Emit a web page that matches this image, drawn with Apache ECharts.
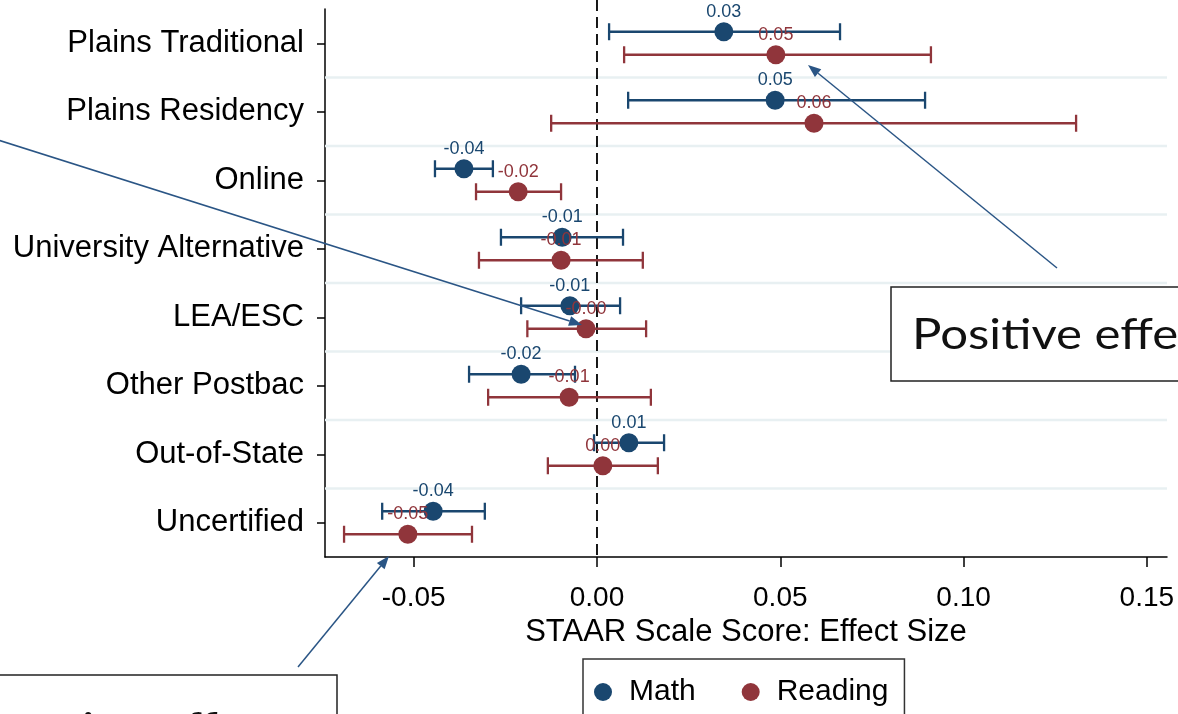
<!DOCTYPE html>
<html>
<head>
<meta charset="utf-8">
<script src="https://cdn.jsdelivr.net/npm/echarts@6/dist/echarts.min.js"></script>
<style>
  html, body { margin: 0; padding: 0; background: #fff; }
  #chart { width: 1178px; height: 714px; }
</style>
</head>
<body>
<div id="chart"></div>
<script>
// ---- data ----
const categories = ['Plains Traditional', 'Plains Residency', 'Online', 'University Alternative', 'LEA/ESC', 'Other Postbac', 'Out-of-State', 'Uncertified'];
const mathEst = [0.0346, 0.0486, -0.0363, -0.0095, -0.0074, -0.0207, 0.0087, -0.0447];
const mathLo  = [0.0033, 0.0085, -0.0442, -0.0262, -0.0207, -0.0349, -0.0008, -0.0586];
const mathHi  = [0.0663, 0.0895, -0.0284, 0.0071, 0.0063, -0.0060, 0.0183, -0.0306];
const readEst = [0.0488, 0.0592, -0.0215, -0.0098, -0.0030, -0.0076, 0.0016, -0.0516];
const readLo  = [0.0074, -0.0125, -0.0330, -0.0322, -0.0190, -0.0297, -0.0134, -0.0690];
const readHi  = [0.0911, 0.1307, -0.0098, 0.0125, 0.0134, 0.0147, 0.0166, -0.0341];
const xTicks = [-0.05, 0, 0.05, 0.10, 0.15];
const xTitle = 'STAAR Scale Score: Effect Size';
const seriesNames = ['Math', 'Reading'];
const posNote = 'Positive effect';
const negNote = 'Negative effect';

const NAVY = '#1a476f';
const MAROON = '#90353b';
const GRIDC = '#e8f0f2';
const ARROW = '#2a5585';
const FONT = '"Liberation Sans", Arial, sans-serif';
const NOTE_FONT = '42px Lato, "DejaVu Sans", sans-serif';

function toRows(est, lo, hi) {
  return categories.map((c, i) => [i, est[i], lo[i], hi[i]]);
}

function renderCI(offsetFrac, color) {
  return function (params, api) {
    const cat = api.value(0), v = api.value(1), lo = api.value(2), hi = api.value(3);
    const band = api.size([0, 1])[1];
    const c = api.coord([v, cat]);
    const y = c[1] + offsetFrac * band;
    const xLo = api.coord([lo, cat])[0];
    const xHi = api.coord([hi, cat])[0];
    const cap = 8.5;
    const lw = 2.3;
    return {
      type: 'group',
      children: [
        { type: 'line', shape: { x1: xLo, y1: y, x2: xHi, y2: y }, style: { stroke: color, lineWidth: lw } },
        { type: 'line', shape: { x1: xLo, y1: y - cap, x2: xLo, y2: y + cap }, style: { stroke: color, lineWidth: lw } },
        { type: 'line', shape: { x1: xHi, y1: y - cap, x2: xHi, y2: y + cap }, style: { stroke: color, lineWidth: lw } },
        { type: 'circle', shape: { cx: c[0], cy: y, r: 9.5 }, style: { fill: color } },
        { type: 'text', z2: 10, style: { text: v.toFixed(2), x: c[0], y: y - 20, align: 'center', verticalAlign: 'middle', fill: color, font: '18px ' + FONT } }
      ]
    };
  };
}

function renderGrid(params, api) {
  const cs = params.coordSys;
  const i = api.value(0);
  const children = [];
  if (i < categories.length - 1) {
    const y = (api.coord([0, i])[1] + api.coord([0, i + 1])[1]) / 2;
    children.push({ type: 'line', shape: { x1: cs.x, y1: y, x2: cs.x + cs.width, y2: y }, style: { stroke: GRIDC, lineWidth: 2.5 } });
  }
  if (i === 0) {
    const x0 = api.coord([0, 0])[0];
    children.push({ type: 'line', z2: 5, shape: { x1: x0, y1: 0, x2: x0, y2: cs.y + cs.height }, style: { stroke: '#000', lineWidth: 1.8, lineDash: [11, 6] } });
  }
  return { type: 'group', children: children };
}

function arrow(x1, y1, x2, y2) {
  const ang = Math.atan2(y2 - y1, x2 - x1);
  const L = 13, W = 5;
  const bx = x2 - L * Math.cos(ang), by = y2 - L * Math.sin(ang);
  const px = -Math.sin(ang) * W, py = Math.cos(ang) * W;
  return [
    { type: 'line', z: 50, shape: { x1: x1, y1: y1, x2: bx, y2: by }, style: { stroke: ARROW, lineWidth: 1.5 } },
    { type: 'polygon', z: 50, shape: { points: [[x2, y2], [bx + px, by + py], [bx - px, by - py]] }, style: { fill: ARROW } }
  ];
}

const chart = echarts.init(document.getElementById('chart'), null, { renderer: 'canvas' });
const option = {
  backgroundColor: '#ffffff',
  animation: false,
  grid: { left: 325, right: 11, top: 9, bottom: 157, containLabel: false },
  legend: {
    data: seriesNames,
    left: 583, top: 659,
    orient: 'horizontal',
    icon: 'circle',
    itemWidth: 30, itemHeight: 18,
    itemGap: 46,
    borderColor: '#333', borderWidth: 1.5,
    padding: [18, 16, 14, 11],
    textStyle: { fontFamily: FONT, fontSize: 30, color: '#000', padding: [0, 0, 0, 6] }
  },
  xAxis: {
    type: 'value',
    min: -0.0742, max: 0.1555,
    splitLine: { show: false },
    axisLine: { show: true, onZero: false, lineStyle: { color: '#000', width: 1.5 } },
    axisTick: { show: true, customValues: xTicks, length: 10, lineStyle: { color: '#000', width: 1.5 } },
    axisLabel: { customValues: xTicks, formatter: v => v.toFixed(2), fontFamily: FONT, fontSize: 28, color: '#000', margin: 27 },
    name: xTitle, nameLocation: 'middle', nameGap: 51,
    nameTextStyle: { fontFamily: FONT, fontSize: 31, color: '#000' }
  },
  yAxis: {
    type: 'category',
    data: categories,
    inverse: true,
    axisLine: { show: true, onZero: false, lineStyle: { color: '#000', width: 1.5 } },
    axisTick: { show: true, alignWithLabel: true, length: 8, lineStyle: { color: '#000', width: 1.5 } },
    axisLabel: { fontFamily: FONT, fontSize: 31, color: '#000', margin: 21 },
    splitLine: { show: false }
  },
  series: [
    {
      name: 'grid', type: 'custom', silent: true, z: 1,
      data: categories.map((c, i) => [i, 0]),
      encode: { x: 1, y: 0 },
      renderItem: renderGrid
    },
    {
      name: seriesNames[0], type: 'custom', z: 3,
      itemStyle: { color: NAVY },
      data: toRows(mathEst, mathLo, mathHi),
      encode: { x: [1, 2, 3], y: 0 },
      renderItem: renderCI(-0.168, NAVY)
    },
    {
      name: seriesNames[1], type: 'custom', z: 4,
      itemStyle: { color: MAROON },
      data: toRows(readEst, readLo, readHi),
      encode: { x: [1, 2, 3], y: 0 },
      renderItem: renderCI(0.168, MAROON)
    }
  ],
  graphic: [].concat(
    arrow(1057, 268, 808, 65),
    arrow(-2, 140, 582, 325),
    arrow(298, 667, 389, 556),
    [
      { type: 'rect', z: 40, shape: { x: 891, y: 287, width: 320, height: 94 }, style: { fill: '#fff', stroke: '#222', lineWidth: 1.5 } },
      { type: 'text', z: 41, x: 912, y: 335, scaleX: 1.17, style: { text: posNote, x: 0, y: 0, verticalAlign: 'middle', fill: '#111', font: NOTE_FONT } },
      { type: 'rect', z: 40, shape: { x: -10, y: 675, width: 347, height: 80 }, style: { fill: '#fff', stroke: '#222', lineWidth: 1.5 } },
      { type: 'text', z: 41, x: 285, y: 729, scaleX: 1.19, style: { text: negNote, x: 0, y: 0, align: 'right', verticalAlign: 'middle', fill: '#111', font: NOTE_FONT } }
    ]
  )
};
chart.setOption(option);
</script>
</body>
</html>
